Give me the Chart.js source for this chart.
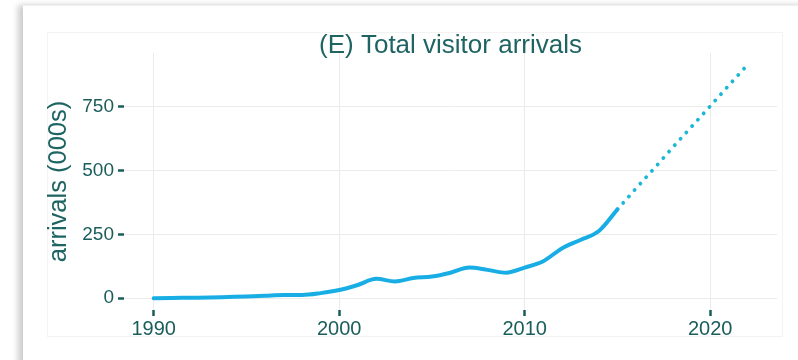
<!DOCTYPE html>
<html>
<head>
<meta charset="utf-8">
<script src="https://cdn.jsdelivr.net/npm/chart.js@4/dist/chart.umd.min.js"></script>
<style>
  html, body { margin: 0; padding: 0; background: #ffffff; }
  #wrap { position: relative; width: 798px; height: 360px; overflow: hidden; background: #fff; }
  #card { position: absolute; left: 23px; top: 5px; width: 800px; height: 400px;
          border-top: 1px solid #f0f0f0; box-shadow: -5px 0 6px rgba(0,0,0,0.2); background: #fff; }
  #frame { position: absolute; left: 47px; top: 32px; width: 734px; height: 303px; border: 1px solid #f3f3f3; }
  canvas { position: absolute; left: 0; top: 0; }
</style>
</head>
<body>
<div id="wrap">
  <div id="card"></div>
  <div id="frame"></div>
  <canvas id="c" width="798" height="360"></canvas>
</div>
<script>
// ---- data ----
const histYears  = [1990,1991,1992,1993,1994,1995,1996,1997,1998,1999,2000,2001,2002,2003,2004,2005,2006,2007,2008,2009,2010,2011,2012,2013,2014,2015];
const histValues = [0,1,2,3,5,7,10,13,13,20,32,52,76,66,79,85,100,120,111,100,120,145,195,228,263,348];
const projYears  = [2015,2016,2017,2018,2019,2020,2021,2022];
const projValues = [348,430,510,592,672,752,833,913];
const xTicks = [1990,2000,2010,2020];
const yTicks = [0,250,500,750];
const titleText = '(E) Total visitor arrivals';
const yTitle = 'arrivals (000s)';

const toPts = (xs, ys) => xs.map((x, i) => ({x: x, y: ys[i]}));
const FONT = '"Liberation Sans", Arial, Helvetica, sans-serif';
const TXT = '#1a5d5a';

new Chart(document.getElementById('c'), {
  type: 'line',
  data: {
    datasets: [
      { data: toPts(histYears, histValues), borderColor: '#18aee5', borderWidth: 4,
        pointRadius: 0, cubicInterpolationMode: 'monotone', borderCapStyle: 'round', borderJoinStyle: 'round' },
      { data: toPts(projYears, projValues), borderColor: '#1cb6d6', borderWidth: 3.8,
        borderDash: [0.1, 8.5], borderCapStyle: 'round', pointRadius: 0, tension: 0 }
    ]
  },
  options: {
    responsive: false, animation: false,
    layout: { padding: { left: 0, right: 21, top: 0, bottom: 0 } },
    plugins: {
      legend: { display: false }, tooltip: { enabled: false },
      title: { display: true, text: titleText, fullSize: false, color: '#1e6462',
               font: { family: FONT, size: 26, weight: 'normal', lineHeight: 1 },
               padding: { top: 33, bottom: -6 } }
    },
    scales: {
      x: {
        type: 'linear', min: 1988.4, max: 2023.6,
        afterBuildTicks: s => { s.ticks = xTicks.map(v => ({value: v})); },
        afterFit: s => { s.height = 50; },
        grid: { color: '#ebebeb', lineWidth: 1, tickColor: TXT, tickLength: 6, tickWidth: 2.5 },
        border: { display: false },
        ticks: { color: TXT, padding: 1, maxRotation: 0, font: { family: FONT, size: 20 },
                 callback: v => String(v) }
      },
      y: {
        type: 'linear', min: -46, max: 960,
        afterBuildTicks: s => { s.ticks = yTicks.map(v => ({value: v})); },
        afterFit: s => { s.width = 124; },
        grid: { color: '#ebebeb', lineWidth: 1, tickColor: TXT, tickLength: 6, tickWidth: 2.5 },
        border: { display: false },
        ticks: { color: TXT, padding: 4, font: { family: FONT, size: 19 }, callback: v => String(v) },
        title: { display: true, text: yTitle, color: '#1e6462',
                 font: { family: FONT, size: 25.5, lineHeight: 1.2 }, padding: { top: 44, bottom: 0 } }
      }
    }
  }
});
</script>
</body>
</html>
